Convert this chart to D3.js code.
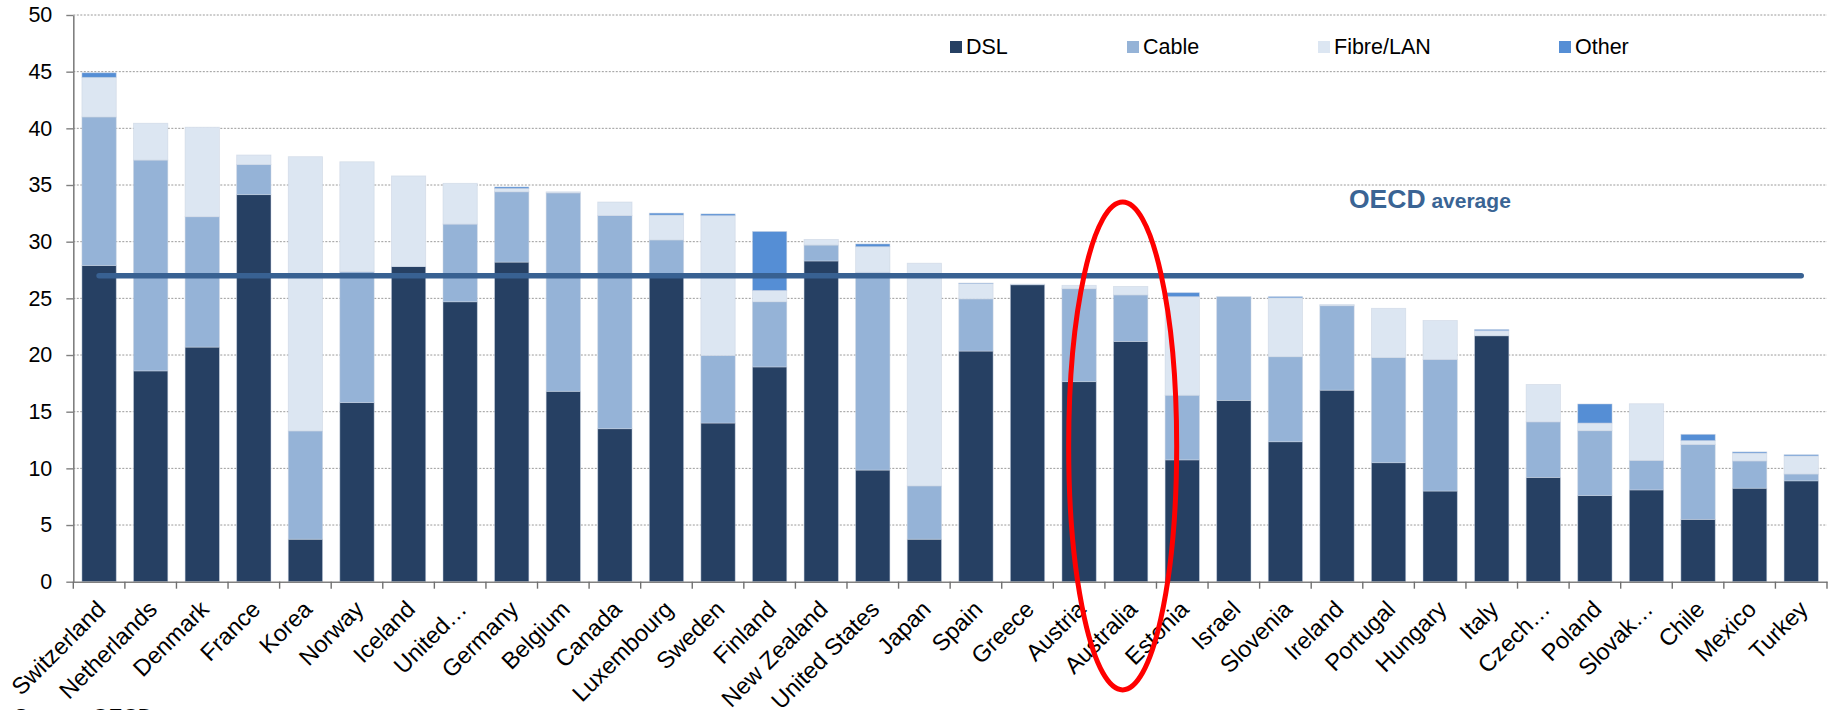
<!DOCTYPE html>
<html>
<head>
<meta charset="utf-8">
<script src="https://cdn.jsdelivr.net/npm/d3@7"></script>
<style>
  html, body { margin: 0; padding: 0; background: #fff; }
  svg { display: block; font-family: "Liberation Sans", Arial, sans-serif; }
</style>
</head>
<body>
<svg id="chart" width="1835" height="710"></svg>
<script>
// ---------- data ----------
const categories = ["Switzerland","Netherlands","Denmark","France","Korea","Norway","Iceland","United…",
  "Germany","Belgium","Canada","Luxembourg","Sweden","Finland","New Zealand","United States","Japan",
  "Spain","Greece","Austria","Australia","Estonia","Israel","Slovenia","Ireland","Portugal","Hungary",
  "Italy","Czech…","Poland","Slovak…","Chile","Mexico","Turkey"];
const dsl   = [27.9,18.6,20.7,34.15,3.75,15.8,27.8,24.7,28.2,16.8,13.5,26.9,14.0,18.95,28.3,9.85,3.75,
  20.35,26.2,17.65,21.2,10.75,16.0,12.35,16.9,10.5,8.0,21.7,9.2,7.6,8.1,5.5,8.25,8.9];
const cable = [13.1,18.6,11.5,2.65,9.55,11.55,0,6.85,6.2,17.5,18.8,3.25,5.95,5.75,1.4,17.45,4.7,
  4.6,0,8.2,4.1,5.7,9.15,7.5,7.45,9.27,11.6,0,4.9,5.72,2.6,6.6,2.4,0.6];
const fibre = [3.5,3.25,7.9,0.85,24.2,9.7,8.0,3.6,0.3,0.1,1.2,2.2,12.35,1.0,0.5,2.26,19.65,
  1.35,0.05,0.3,0.75,8.7,0,5.2,0.1,4.35,3.45,0.45,3.3,0.68,5.0,0.35,0.7,1.6];
const other = [0.4,0,0,0,0,0,0,0,0.13,0,0,0.17,0.15,5.2,0,0.24,0,
  0.05,0,0,0,0.35,0,0.1,0,0,0,0.1,0,1.68,0,0.55,0.1,0.1];
const seriesNames = ["DSL","Cable","Fibre/LAN","Other"];
const yTicks = [0,5,10,15,20,25,30,35,40,45,50];
const oecdAverage = 27;
const highlighted = "Australia";

// ---------- styles ----------
const colors = ["#264063","#95B3D7","#DCE6F2","#558ED5"];
const svg = d3.select("#chart");

const plotLeft = 73.3, plotRight = 1827, plotTop = 15, plotBottom = 581.7;
const x = d3.scaleBand().domain(categories).range([plotLeft, plotRight]).paddingInner(0.335).paddingOuter(0.1675);
const y = d3.scaleLinear().domain([0, 50]).range([plotBottom, plotTop]);

// gridlines
svg.append("g").selectAll("line").data(yTicks.filter(d => d > 0)).join("line")
  .attr("x1", plotLeft).attr("x2", plotRight)
  .attr("y1", d => y(d)).attr("y2", d => y(d))
  .attr("stroke", "#9a9a9a").attr("stroke-width", 1).attr("stroke-dasharray", "2,1.5");

// stacked bars
const rows = categories.map((c, i) => ({cat: c, DSL: dsl[i], Cable: cable[i], "Fibre/LAN": fibre[i], Other: other[i]}));
const stack = d3.stack().keys(seriesNames)(rows);
svg.append("g").selectAll("g").data(stack).join("g")
  .attr("fill", (d, i) => colors[i])
  .selectAll("rect").data(d => d.filter(p => p[1] - p[0] > 0)).join("rect")
  .attr("x", d => x(d.data.cat))
  .attr("width", x.bandwidth())
  .attr("y", d => y(d[1]))
  .attr("height", d => y(d[0]) - y(d[1]))
  .attr("stroke", "rgba(200,210,225,0.6)").attr("stroke-width", 0.8);

// y axis
const yAxis = svg.append("g").attr("transform", `translate(${plotLeft},0)`)
  .call(d3.axisLeft(y).tickValues(yTicks).tickSize(7).tickPadding(14).tickSizeOuter(0));
yAxis.select(".domain").attr("stroke", "#808080").attr("stroke-width", 1.6);
yAxis.selectAll(".tick line").attr("stroke", "#808080").attr("stroke-width", 1.4);
yAxis.selectAll(".tick text").attr("font-size", 21.5).attr("fill", "#000")
  .style("font-family", "'Liberation Sans', Arial, sans-serif");

// x axis
const xAxis = svg.append("g").attr("transform", `translate(0,${plotBottom})`)
  .call(d3.axisBottom(x).tickSize(0).tickSizeOuter(0).tickPadding(0));
xAxis.select(".domain").attr("stroke", "#808080").attr("stroke-width", 1.6);
xAxis.selectAll(".tick text")
  .attr("font-size", 23.5).attr("fill", "#000")
  .style("font-family", "'Liberation Sans', Arial, sans-serif")
  .attr("text-anchor", "end").attr("dy", null).attr("y", null)
  .attr("transform", "translate(8,29) rotate(-45)");
// category boundary tick marks
const bounds = d3.range(categories.length + 1).map(i => x.range()[0] + i * x.step());
svg.append("g").selectAll("line").data(bounds).join("line")
  .attr("x1", d => d).attr("x2", d => d)
  .attr("y1", plotBottom).attr("y2", plotBottom + 7)
  .attr("stroke", "#707070").attr("stroke-width", 1.4);

// OECD average line
const first = categories[0], last = categories[categories.length - 1];
svg.append("line")
  .attr("x1", x(first) + x.bandwidth() / 2).attr("x2", x(last) + x.bandwidth() / 2)
  .attr("y1", y(oecdAverage)).attr("y2", y(oecdAverage))
  .attr("stroke", "#386192").attr("stroke-width", 5.5).attr("stroke-linecap", "round");

const avgLabel = svg.append("text").attr("x", 1349).attr("y", 208)
  .attr("fill", "#3A6494").attr("font-weight", "bold");
avgLabel.append("tspan").attr("font-size", 26.5).text("OECD");
avgLabel.append("tspan").attr("font-size", 21).text(" average");

// legend
const legendX = [950, 1127, 1318, 1559];
const legend = svg.append("g").selectAll("g").data(seriesNames).join("g")
  .attr("transform", (d, i) => `translate(${legendX[i]},41)`);
legend.append("rect").attr("width", 12).attr("height", 12).attr("fill", (d, i) => colors[i]);
legend.append("text").attr("x", 16).attr("y", 13).attr("font-size", 21.5).attr("fill", "#000").text(d => d);

// highlight ellipse
const hx = x(highlighted) + x.bandwidth() / 2 - 8;
const yTop = y(33.5), yBot = y(-9.55);
svg.append("ellipse")
  .attr("cx", hx).attr("cy", (yTop + yBot) / 2)
  .attr("rx", 54).attr("ry", (yBot - yTop) / 2)
  .attr("fill", "none").attr("stroke", "#FF0000").attr("stroke-width", 5);

// source
svg.append("text").attr("x", 14).attr("y", 723).attr("font-size", 21).attr("fill", "#000").text("Source: OECD");
</script>
</body>
</html>
